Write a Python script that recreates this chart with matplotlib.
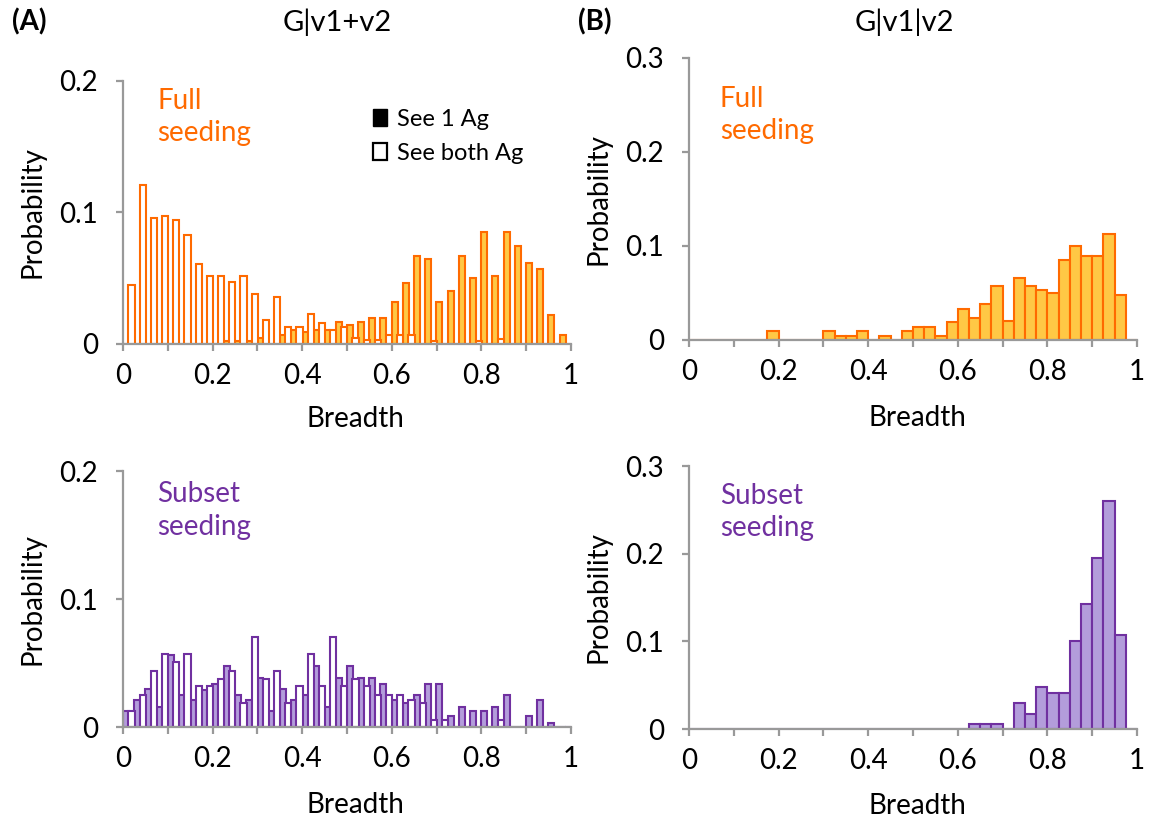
import numpy as np
import matplotlib
matplotlib.use("Agg")
import matplotlib.pyplot as plt
from matplotlib.patches import Patch

plt.rcParams['font.family'] = ['Lato', 'DejaVu Sans']

# bins of width 0.025 on [0, 1]
bin_edges = np.linspace(0, 1, 41)
bin_centers = (bin_edges[:-1] + bin_edges[1:]) / 2

# (A) G|v1+v2, full seeding
full_one_ag = [0, 0, 0, 0, 0, 0, 0, 0, 0, 0.002,
               0.002, 0.002, 0.0046, 0, 0.0066, 0.011, 0.009, 0.011, 0.011, 0.017,
               0.0147, 0.0167, 0.0197, 0.0197, 0.0316, 0.0463, 0.067, 0.0646, 0.0316, 0.04,
               0.067, 0.050, 0.085, 0.052, 0.085, 0.0747, 0.0615, 0.057, 0.0218, 0.0066]
full_both_ag = [0.045, 0.121, 0.096, 0.097, 0.094, 0.083, 0.061, 0.052, 0.052, 0.047,
                0.052, 0.038, 0.018, 0.036, 0.013, 0.013, 0.023, 0.016, 0.011, 0.013,
                0.0046, 0.003, 0.003, 0.0066, 0.0066, 0.0066, 0, 0.002, 0, 0,
                0, 0.002, 0, 0.004, 0, 0, 0, 0, 0, 0]

# (A) G|v1+v2, subset seeding
subset_one_ag = [0.0123, 0.0215, 0.0296, 0.016, 0.056, 0.025, 0.0215, 0.029, 0.034, 0.0476,
                 0.0254, 0.0215, 0.0385, 0.0123, 0.0296, 0.0215, 0.0254, 0.0476, 0.016, 0.0385,
                 0.0476, 0.0385, 0.0385, 0.034, 0.0215, 0.019, 0.0254, 0.034, 0.034, 0.0084,
                 0.016, 0.0123, 0.0123, 0.016, 0.0254, 0, 0.0084, 0.0215, 0.003, 0]
subset_both_ag = [0.0123, 0.0249, 0.044, 0.057, 0.051, 0.057, 0.032, 0.032, 0.0377, 0.044,
                  0.019, 0.07, 0.0377, 0.044, 0.019, 0.032, 0.057, 0.032, 0.07, 0.032,
                  0.0377, 0.032, 0.025, 0.025, 0.025, 0.0215, 0.019, 0.0058, 0.0058, 0,
                  0, 0, 0, 0.0058, 0, 0, 0, 0, 0, 0]

# (B) G|v1|v2
full_sep = [0, 0, 0, 0, 0, 0, 0, 0.0096, 0, 0,
            0, 0, 0.0096, 0.0046, 0.0046, 0.0096, 0, 0.0046, 0, 0.0096,
            0.0142, 0.0142, 0.0046, 0.0188, 0.033, 0.023, 0.038, 0.057, 0.02, 0.066,
            0.057, 0.053, 0.05, 0.085, 0.1, 0.089, 0.089, 0.113, 0.048, 0]
subset_sep = [0, 0, 0, 0, 0, 0, 0, 0, 0, 0,
              0, 0, 0, 0, 0, 0, 0, 0, 0, 0,
              0, 0, 0, 0, 0, 0.006, 0.006, 0.006, 0, 0.03,
              0.017, 0.048, 0.041, 0.041, 0.1, 0.143, 0.195, 0.26, 0.107, 0]

ORANGE = '#FF6A00'
YELLOW = '#FFC845'
PURPLE = '#7030A0'
LAVENDER = '#B39DDB'
GRAY = '#999999'
FS = 20

fig = plt.figure(figsize=(11.56, 8.18), dpi=100)


def style_axes(ax, ymax, ystep):
    ax.set_xlim(0, 1)
    ax.set_ylim(0, ymax)
    for side in ['top', 'right']:
        ax.spines[side].set_visible(False)
    for side in ['left', 'bottom']:
        ax.spines[side].set_color(GRAY)
        ax.spines[side].set_linewidth(1.6)
    xt = np.round(np.arange(0, 1.01, 0.1), 1)
    ax.set_xticks(xt)
    ax.set_xticklabels(['0' if v == 0 else ('1' if v == 1 else (f'{v:g}' if round(v * 10) % 2 == 0 else ''))
                        for v in xt])
    yt = np.round(np.arange(0, ymax + 1e-9, ystep), 1)
    ax.set_yticks(yt)
    ax.set_yticklabels(['0' if v == 0 else f'{v:g}' for v in yt])
    ax.tick_params(axis='x', direction='out', length=5, width=1.6, color=GRAY, labelsize=FS, pad=9)
    ax.tick_params(axis='y', direction='out', length=5, width=1.6, color=GRAY, labelsize=FS, pad=13)
    ax.set_xlabel('Breadth', fontsize=FS)
    ax.set_ylabel('Probability', fontsize=FS)


def paired_bars(ax, one_ag, both_ag, edge, fill):
    w = 0.0135
    ax.bar(bin_centers - 0.0062, one_ag, width=w, color=fill, edgecolor=edge, linewidth=1.5)
    ax.bar(bin_centers + 0.0065, both_ag, width=w, color='white', edgecolor=edge, linewidth=1.5)


# top-left
ax1 = fig.add_axes([0.1064, 0.5795, 0.3875, 0.3215])
paired_bars(ax1, full_one_ag, full_both_ag, ORANGE, YELLOW)
style_axes(ax1, 0.2, 0.1)
ax1.yaxis.set_label_coords(-0.172, 0.5)
ax1.xaxis.set_label_coords(0.518, -0.235)
ax1.text(0.076, 0.975, 'Full\nseeding', transform=ax1.transAxes, color=ORANGE,
         fontsize=FS, va='top', ha='left', linespacing=1.3)
handles = [Patch(facecolor='black', edgecolor='black'),
           Patch(facecolor='white', edgecolor='black', linewidth=1.6)]
ax1.legend(handles, ['See 1 Ag', 'See both Ag'], loc='upper left', bbox_to_anchor=(0.51, 0.975),
           frameon=False, fontsize=17, handlelength=0.6, handleheight=0.75,
           handletextpad=0.45, labelspacing=0.55)

# bottom-left
ax2 = fig.add_axes([0.1064, 0.1112, 0.3875, 0.313])
paired_bars(ax2, subset_one_ag, subset_both_ag, PURPLE, LAVENDER)
style_axes(ax2, 0.2, 0.1)
ax2.yaxis.set_label_coords(-0.172, 0.5)
ax2.xaxis.set_label_coords(0.52, -0.255)
ax2.text(0.076, 0.96, 'Subset\nseeding', transform=ax2.transAxes, color=PURPLE,
         fontsize=FS, va='top', ha='left', linespacing=1.3)

# top-right
ax3 = fig.add_axes([0.596, 0.5844, 0.3875, 0.3447])
ax3.bar(bin_centers, full_sep, width=0.025, color=YELLOW, edgecolor=ORANGE, linewidth=1.5)
style_axes(ax3, 0.3, 0.1)
ax3.yaxis.set_label_coords(-0.172, 0.5)
ax3.xaxis.set_label_coords(0.511, -0.232)
ax3.text(0.069, 0.9, 'Full\nseeding', transform=ax3.transAxes, color=ORANGE,
         fontsize=FS, va='top', ha='left', linespacing=1.3)

# bottom-right
ax4 = fig.add_axes([0.596, 0.1088, 0.3875, 0.3215])
ax4.bar(bin_centers, subset_sep, width=0.025, color=LAVENDER, edgecolor=PURPLE, linewidth=1.5)
style_axes(ax4, 0.3, 0.1)
ax4.yaxis.set_label_coords(-0.172, 0.5)
ax4.xaxis.set_label_coords(0.511, -0.243)
ax4.text(0.069, 0.935, 'Subset\nseeding', transform=ax4.transAxes, color=PURPLE,
         fontsize=FS, va='top', ha='left', linespacing=1.3)

fig.text(0.0104, 0.973, '(A)', fontsize=FS, fontweight='bold', va='center', ha='left')
fig.text(0.292, 0.973, 'G|v1+v2', fontsize=21, va='center', ha='center')
fig.text(0.5, 0.973, '(B)', fontsize=FS, fontweight='bold', va='center', ha='left')
fig.text(0.782, 0.973, 'G|v1|v2', fontsize=21, va='center', ha='center')

fig.savefig('out.png', dpi=100)
